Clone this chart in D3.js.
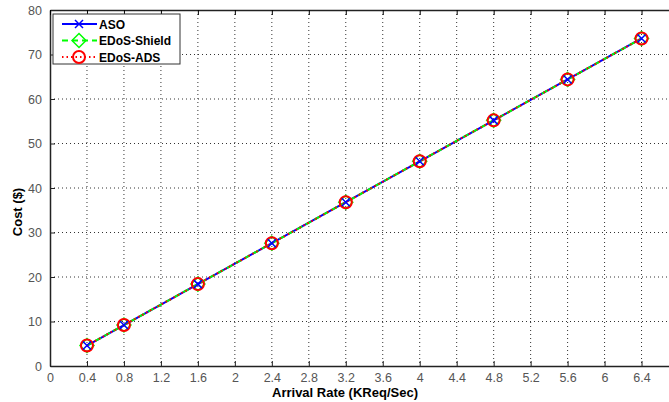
<!DOCTYPE html>
<html>
<head>
<meta charset="utf-8">
<script src="https://cdn.jsdelivr.net/npm/d3@7"></script>
<style>
  body { margin: 0; background: #fff; }
  svg { display: block; font-family: "Liberation Sans", Arial, sans-serif; }
</style>
</head>
<body>
<svg id="chart" width="669" height="402"></svg>
<script>
// data
const arrivalRates = [0.4, 0.8, 1.6, 2.4, 3.2, 4, 4.8, 5.6, 6.4];
const asoCost = [4.6, 9.2, 18.4, 27.6, 36.8, 46.0, 55.2, 64.4, 73.6];
const shieldCost = [4.6, 9.2, 18.4, 27.6, 36.8, 46.0, 55.2, 64.4, 73.6];
const adsCost = [4.6, 9.2, 18.4, 27.6, 36.8, 46.0, 55.2, 64.4, 73.6];
const xTicks = [0, 0.4, 0.8, 1.2, 1.6, 2, 2.4, 2.8, 3.2, 3.6, 4, 4.4, 4.8, 5.2, 5.6, 6, 6.4, 6.8];
const yTicks = [0, 10, 20, 30, 40, 50, 60, 70, 80];

const svg = d3.select('#chart');
const m = { left: 50, top: 10, right: 697, bottom: 366 };

const x = d3.scaleLinear().domain([0, 7]).range([m.left, m.right]);
const y = d3.scaleLinear().domain([0, 80]).range([m.bottom, m.top]);

const g = svg.append('g');

// grid
g.selectAll('.gx').data(xTicks.slice(1)).enter().append('line')
  .attr('x1', d => x(d)).attr('x2', d => x(d))
  .attr('y1', m.top).attr('y2', m.bottom)
  .attr('stroke', '#333').attr('stroke-width', 1).attr('stroke-dasharray', '1,3');
g.selectAll('.gy').data(yTicks.slice(1, -1)).enter().append('line')
  .attr('x1', m.left).attr('x2', m.right)
  .attr('y1', d => y(d)).attr('y2', d => y(d))
  .attr('stroke', '#333').attr('stroke-width', 1).attr('stroke-dasharray', '1,3');

// axes (6.8 sits past the window edge, so only its tick mark is kept)
const xAxis = d3.axisBottom(x).tickValues(xTicks).tickSizeInner(-5).tickSizeOuter(0).tickPadding(7)
  .tickFormat(d => d > 6.5 ? '' : d3.format('~g')(d));
const yAxis = d3.axisLeft(y).tickValues(yTicks).tickSizeInner(-5).tickSizeOuter(0).tickPadding(8);

const gx = g.append('g').attr('transform', `translate(0,${m.bottom})`).call(xAxis);
const gy = g.append('g').attr('transform', `translate(${m.left},0)`).call(yAxis);
g.append('g').attr('transform', `translate(0,${m.top})`)
  .call(d3.axisTop(x).tickValues(xTicks).tickSizeInner(-5).tickSizeOuter(0).tickFormat(''));
[gx, gy].forEach(a => {
  a.selectAll('.tick line').attr('stroke', '#222');
  a.selectAll('.tick text').attr('fill', '#555').attr('font-size', 12.5);
});
g.selectAll('.domain').attr('stroke', '#222').attr('stroke-width', 1.5);

// axis titles
svg.append('text').attr('x', 345).attr('y', 397).attr('text-anchor', 'middle')
  .attr('font-weight', 'bold').attr('font-size', 13).text('Arrival Rate (KReq/Sec)');
svg.append('text').attr('transform', 'translate(22,212) rotate(-90)').attr('text-anchor', 'middle')
  .attr('font-weight', 'bold').attr('font-size', 13).text('Cost ($)');

const series = [
  { name: 'ASO', values: asoCost, color: '#0000ff', dash: null, marker: 'x' },
  { name: 'EDoS-Shield', values: shieldCost, color: '#00ff00', dash: '6,4', marker: 'diamond' },
  { name: 'EDoS-ADS', values: adsCost, color: '#ff0000', dash: '1.5,3', marker: 'circle' }
];

const line = d3.line().x(d => x(d[0])).y(d => y(d[1]));

function drawMarker(sel, s, cx, cy) {
  if (s.marker === 'circle') {
    sel.append('circle').attr('cx', cx).attr('cy', cy).attr('r', 6)
      .attr('fill', 'none').attr('stroke', s.color).attr('stroke-width', 2);
  } else if (s.marker === 'diamond') {
    sel.append('path').attr('d', `M${cx},${cy - 7}L${cx + 7},${cy}L${cx},${cy + 7}L${cx - 7},${cy}Z`)
      .attr('fill', 'none').attr('stroke', s.color).attr('stroke-width', 1.5);
  } else {
    sel.append('path').attr('d', `M${cx - 4},${cy - 4}L${cx + 4},${cy + 4}M${cx - 4},${cy + 4}L${cx + 4},${cy - 4}`)
      .attr('stroke', s.color).attr('stroke-width', 1.5);
  }
}

series.forEach(s => {
  g.append('path').datum(arrivalRates.map((r, i) => [r, s.values[i]]))
    .attr('d', line).attr('fill', 'none').attr('stroke', s.color)
    .attr('stroke-width', 2).attr('stroke-dasharray', s.dash);
});
['diamond', 'circle', 'x'].forEach(mk => {
  const s = series.find(d => d.marker === mk);
  arrivalRates.forEach((r, i) => drawMarker(g, s, x(r), y(s.values[i])));
});

// legend
const lg = svg.append('g');
lg.append('rect').attr('x', 53).attr('y', 14).attr('width', 127).attr('height', 50)
  .attr('fill', '#fff').attr('stroke', '#333').attr('stroke-width', 1);
series.forEach((s, i) => {
  const ly = 24 + i * 16.5;
  lg.append('line').attr('x1', 62).attr('x2', 97).attr('y1', ly).attr('y2', ly)
    .attr('stroke', s.color).attr('stroke-width', 2).attr('stroke-dasharray', s.dash);
  drawMarker(lg, s, 79, ly);
  lg.append('text').attr('x', 99).attr('y', ly + 4.5).attr('font-weight', 'bold')
    .attr('font-size', 12).text(s.name);
});
</script>
</body>
</html>
